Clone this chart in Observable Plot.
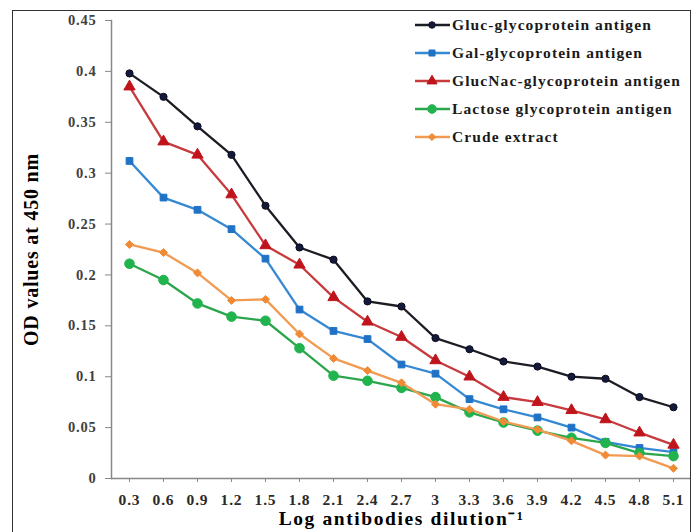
<!DOCTYPE html>
<html>
<head>
<meta charset="utf-8">
<script src="https://cdn.jsdelivr.net/npm/d3@7"></script>
<script src="https://cdn.jsdelivr.net/npm/@observablehq/plot@0.6"></script>
<style>
  html, body { margin: 0; padding: 0; background: #fff; }
  #wrap { position: relative; width: 699px; height: 532px; overflow: hidden; }
  #frame { position: absolute; left: 12px; top: 10px; width: 679px; height: 540px; border: 1.3px solid #333; box-sizing: border-box; pointer-events: none; }
  #legend { position: absolute; left: 414px; top: 11px; font-family: "Liberation Serif", "Times New Roman", serif; font-weight: bold; font-size: 15.5px; letter-spacing: 1.1px; color: #1a1a1a; }
  .row { display: flex; align-items: center; height: 28px; white-space: nowrap; }
  .row svg { margin-right: 1px; }
</style>
</head>
<body>
<div id="wrap">
  <div id="chart"></div>
  <div id="frame"></div>
  <div id="legend"></div>
</div>
<script>
const dilutions = ["0.3","0.6","0.9","1.2","1.5","1.8","2.1","2.4","2.7","3","3.3","3.6","3.9","4.2","4.5","4.8","5.1"];
const yTicks = [0, 0.05, 0.1, 0.15, 0.2, 0.25, 0.3, 0.35, 0.4, 0.45];

const seriesNames = ["Gluc-glycoprotein antigen", "Gal-glycoprotein antigen", "GlucNac-glycoprotein antigen", "Lactose glycoprotein antigen", "Crude extract"];

const gluc    = [0.398, 0.375, 0.346, 0.318, 0.268, 0.227, 0.215, 0.174, 0.169, 0.138, 0.127, 0.115, 0.110, 0.100, 0.098, 0.080, 0.070];
const gal     = [0.312, 0.276, 0.264, 0.245, 0.216, 0.166, 0.145, 0.137, 0.112, 0.103, 0.078, 0.068, 0.060, 0.050, 0.036, 0.030, 0.026];
const glucnac = [0.385, 0.331, 0.318, 0.279, 0.229, 0.210, 0.178, 0.154, 0.139, 0.116, 0.100, 0.080, 0.075, 0.067, 0.058, 0.045, 0.033];
const lactose = [0.211, 0.195, 0.172, 0.159, 0.155, 0.128, 0.101, 0.096, 0.089, 0.080, 0.065, 0.055, 0.047, 0.040, 0.035, 0.025, 0.022];
const crude   = [0.230, 0.222, 0.202, 0.175, 0.176, 0.142, 0.118, 0.106, 0.094, 0.073, 0.068, 0.056, 0.048, 0.037, 0.023, 0.022, 0.010];

const seriesValues = [gluc, gal, glucnac, lactose, crude];
const styles = [
  {line: "#1c1c24", fill: "#141a3c", stroke: "#0d0d1e", symbol: "circle",   r: 3.6},
  {line: "#3589d2", fill: "#1f72c6", stroke: "#1f72c6", symbol: "square",   r: 3.8},
  {line: "#c73a3d", fill: "#c0141c", stroke: "#c0141c", symbol: "triangle", r: 4.2},
  {line: "#2ca64c", fill: "#21b34d", stroke: "#21b34d", symbol: "circle",   r: 4.8},
  {line: "#f09a52", fill: "#f08a34", stroke: "#f08a34", symbol: "diamond2", r: 3.6}
];

const data = [];
seriesNames.forEach((name, i) => {
  seriesValues[i].forEach((v, j) => data.push({series: name, x: dilutions[j], y: v}));
});

const fontFam = "Liberation Serif, Times New Roman, serif";
const marks = [
  Plot.axisY({ticks: yTicks, tickSize: 6, tickPadding: 9, tickFormat: d => String(+d.toFixed(2)),
    label: "OD values at 450 nm", labelArrow: "none", labelAnchor: "center", labelOffset: 88, fontSize: 14.5, fontWeight: "bold", fill: "#404040", stroke: "#888"}),
  Plot.axisX({tickSize: 4, tickPadding: 11, label: "Log antibodies dilution⁻¹", labelArrow: "none", labelAnchor: "center", labelOffset: 46,
    fontSize: 15.5, fontWeight: "bold", fill: "#2a2a2a", stroke: "#888"}),
  Plot.ruleY([0], {stroke: "#888", strokeWidth: 1.5}),
  Plot.frame({anchor: "left", stroke: "#888", strokeWidth: 1.5})
];
seriesNames.forEach((name, i) => {
  const d = data.filter(r => r.series === name);
  const s = styles[i];
  marks.push(Plot.line(d, {x: "x", y: "y", stroke: s.line, strokeWidth: 2.3}));
  marks.push(Plot.dot(d, {x: "x", y: "y", symbol: () => s.symbol, fill: s.fill, stroke: s.stroke, strokeWidth: 1, r: s.r}));
});

const chart = Plot.plot({
  width: 699,
  height: 532,
  marginLeft: 111,
  marginRight: 8,
  marginTop: 20,
  marginBottom: 54,
  style: {fontFamily: fontFam, background: "transparent"},
  x: {type: "point", domain: dilutions, padding: 0.5},
  y: {domain: [0, 0.45]},
  symbol: {type: "identity"},
  marks
});
document.getElementById("chart").appendChild(chart);
const sel = d3.select(chart);
sel.selectAll("g[aria-label='y-axis label'] text, g[aria-label='x-axis label'] text")
  .each(function() { this.textContent = this.textContent.replace(/\s*[→↑←↓]\s*/g, ""); });
sel.selectAll("g[aria-label='y-axis label'] text").style("font-size", "20px").style("font-weight", "bold").style("fill", "#000").style("letter-spacing", "0.8px");
sel.selectAll("g[aria-label='x-axis label'] text").style("font-size", "19.5px").style("font-weight", "bold").style("fill", "#000").style("letter-spacing", "1.6px");
sel.selectAll("g[aria-label='y-axis tick label'] text").style("letter-spacing", "0.8px");
sel.selectAll("g[aria-label='x-axis tick label'] text").style("letter-spacing", "0.8px");

// legend
const legend = d3.select("#legend");
const symMap = {circle: d3.symbolCircle, square: d3.symbolSquare, triangle: d3.symbolTriangle, diamond2: d3.symbolDiamond2};
seriesNames.forEach((name, i) => {
  const s = styles[i];
  const row = legend.append("div").attr("class", "row");
  const svg = row.append("svg").attr("width", 37).attr("height", 14);
  svg.append("line").attr("x1", 1).attr("x2", 36).attr("y1", 7).attr("y2", 7).attr("stroke", s.line).attr("stroke-width", 2.3);
  svg.append("path").attr("transform", "translate(18,7)")
    .attr("d", d3.symbol(symMap[s.symbol], Math.PI * s.r * s.r * 0.8)())
    .attr("fill", s.fill).attr("stroke", s.stroke);
  row.append("span").text(name);
});
</script>
</body>
</html>
